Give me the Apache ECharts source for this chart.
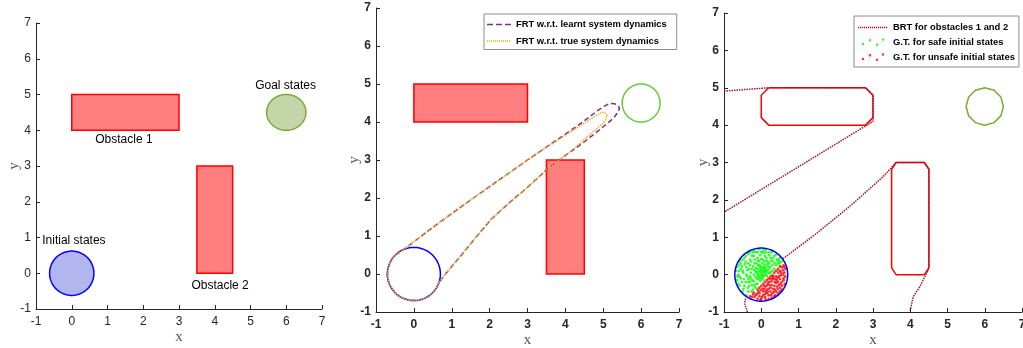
<!DOCTYPE html>
<html><head><meta charset="utf-8">
<script src="https://cdn.jsdelivr.net/npm/echarts@6/dist/echarts.min.js"></script>
<style>html,body{margin:0;padding:0;background:#fff}#c{width:1023px;height:348px}</style>
</head><body><div id="c"></div>
<script>
// ---------- data ----------
const axisMin = -1, axisMax = 7, axisStep = 1;

// Panel 1
const p1Obstacles = [[0, 4, 3, 5], [3.5, 0, 4.5, 3]];          // x0,y0,x1,y1
const p1Initial = [[0, 0, 0.62, 0.62]];                          // cx,cy,rx,ry
const p1Goal = [[6, 4.5, 0.55, 0.5]];
const p1Labels = [[5.98, 5.25, 'Goal states'], [1.46, 3.73, 'Obstacle 1'], [0.06, 0.91, 'Initial states'], [4.15, -0.35, 'Obstacle 2']];

// Panel 2
const p2Obstacles = [[0, 4, 3, 5], [3.5, 0, 4.5, 3]];
const p2Initial = [[0, 0, 0.7, 0.7]];
const p2Goal = [[6, 4.5, 0.5, 0.5]];
const frtLearntName = 'FRT w.r.t. learnt system dynamics';
const frtTrueName = 'FRT w.r.t. true system dynamics';
const frtLearnt = [
  [0.67,-0.22],[0.54,-0.45],[0.40,-0.57],[0.24,-0.66],[0.06,-0.70],[-0.12,-0.69],[-0.30,-0.63],[-0.45,-0.54],
  [-0.57,-0.40],[-0.66,-0.24],[-0.70,-0.06],[-0.69,0.12],[-0.63,0.30],[-0.54,0.45],[-0.43,0.54],[-0.34,0.59],
  [0.0,0.85],[0.76,1.42],[1.5,1.95],[2.0,2.3],[3.0,3.0],[4.0,3.68],[4.5,4.03],[4.85,4.3],[5.05,4.43],[5.18,4.49],
  [5.3,4.48],[5.4,4.42],[5.43,4.36],[5.38,4.25],[5.27,4.10],[4.91,3.80],[4.5,3.48],[4.2,3.26],[3.86,3.02],
  [3.5,2.74],[3.0,2.28],[2.5,1.86],[2.04,1.44],[1.6,0.92],[1.29,0.54],[1.0,0.2],[0.8,-0.04],[0.67,-0.22]
];
const frtTrue = [
  [0.67,-0.22],[0.54,-0.45],[0.40,-0.57],[0.24,-0.66],[0.06,-0.70],[-0.12,-0.69],[-0.30,-0.63],[-0.45,-0.54],
  [-0.57,-0.40],[-0.66,-0.24],[-0.70,-0.06],[-0.69,0.12],[-0.63,0.30],[-0.54,0.45],[-0.43,0.54],[-0.34,0.59],
  [0.0,0.85],[0.76,1.42],[1.5,1.95],[2.0,2.3],[3.0,3.0],[3.5,3.33],[4.0,3.65],[4.5,3.97],[4.8,4.16],[4.96,4.25],
  [5.05,4.24],[5.1,4.18],[5.07,4.07],[5.0,3.97],[4.74,3.75],[4.4,3.45],[4.1,3.2],[3.86,3.02],
  [3.5,2.74],[3.0,2.28],[2.5,1.86],[2.04,1.44],[1.6,0.92],[1.29,0.54],[1.0,0.2],[0.8,-0.04],[0.67,-0.22]
];

// Panel 3
const p3Obstacle1 = [[0.2,5],[2.8,5],[3,4.8],[3,4.2],[2.8,4],[0.2,4],[0,4.2],[0,4.8],[0.2,5]];
const p3Obstacle2 = [[3.62,3],[4.38,3],[4.5,2.82],[4.5,0.18],[4.38,0],[3.62,0],[3.5,0.18],[3.5,2.82],[3.62,3]];
const p3Goal = [[6, 4.5, 0.5, 0.5]];
const p3Initial = [[0, 0, 0.71, 0.71]];
const brtName = 'BRT for obstacles 1 and 2';
const safeName = 'G.T. for safe initial states';
const unsafeName = 'G.T. for unsafe initial states';
const brtObstacle1 = [[-1,4.91],[0.2,5.0],[2.8,5.0],[3.0,4.8],[3.0,4.1],[-1,1.67]];
const brtObstacle2 = [[0.58,0.42],[1.48,1.1],[2.37,1.82],[3.27,2.62],[3.62,3.0],[4.38,3.0],[4.5,2.82],[4.5,0.18],[4.48,0.12],[4.26,-0.32],[4.08,-0.59],[3.99,-1.0]];
const brtLower = [[-0.42,-0.64],[-0.45,-0.77],[-0.37,-1.0]];
const safePts = [
  [0.02,0.05],[-0.05,0.1],[0.08,0.12],[-0.1,-0.02],[0.05,-0.05],[-0.03,0.18],[0.12,0.02],[-0.15,0.08],[0.0,-0.1],[0.1,0.2],
  [-0.08,0.25],[0.15,0.1],[-0.2,0.0],[0.03,0.3],[-0.12,-0.12],[0.18,0.22],[-0.25,0.15],[0.06,-0.14],[-0.18,0.3],[0.22,0.05],
  [-0.3,0.4],[-0.4,0.2],[-0.5,0.1],[-0.55,-0.1],[-0.45,-0.3],[-0.35,-0.45],[-0.3,-0.2],[-0.6,0.25],[-0.5,0.4],[-0.35,0.55],
  [-0.15,0.6],[0.05,0.65],[0.2,0.6],[0.35,0.5],[0.45,0.4],[0.3,0.35],[0.25,0.45],[0.1,0.5],[-0.1,0.45],[-0.25,0.5],
  [-0.62,0.0],[-0.65,-0.15],[-0.58,-0.3],[-0.5,-0.45],[-0.4,-0.55],[-0.42,0.5],[-0.6,0.35],[-0.2,0.65],[0.4,0.25],[0.5,0.3],
  [0.55,0.35],[0.45,0.3],[0.35,0.15],[0.3,0.1],[0.25,0.05],[0.15,-0.04],
  [-0.05,-0.05],[0.0,0.0],[0.07,0.07],[-0.07,0.02],[0.03,-0.02],[-0.02,0.08],[0.1,-0.02],[-0.12,0.05],[0.05,0.15],[-0.06,-0.13],
  [-0.16,-0.06],[0.13,0.14],[-0.1,0.15],[0.0,0.22],[-0.22,0.22],[-0.28,0.05],[-0.2,-0.18],[-0.1,-0.25],[-0.28,-0.1],[0.08,0.35],
  [-0.35,0.3],[-0.38,-0.05],[-0.32,-0.3],[-0.15,-0.35],[-0.22,-0.4],
  [-0.68,0.1],[-0.66,0.2],[-0.55,0.3],[-0.45,0.45],[-0.3,0.6],[-0.05,0.68],[0.12,0.67],[0.28,0.6],[0.4,0.53],[0.5,0.45],
  [-0.62,-0.25],[-0.52,-0.2],[-0.42,-0.2],[-0.48,0.05],[-0.38,0.12],[-0.3,0.25],[-0.18,0.4],[0.0,0.42],[0.18,0.35],[0.22,0.3],
  [0.3,0.25],[0.2,0.15],[-0.05,0.35],[-0.42,0.35],[-0.55,0.15],[-0.25,-0.28],[-0.35,-0.2],
  [-0.6,0.1],[-0.58,-0.05],[-0.52,0.22],[-0.46,-0.12],[-0.44,0.28],[-0.4,0.0],[-0.36,-0.35],[-0.33,0.15],[-0.3,-0.05],[-0.27,0.35],
  [-0.24,-0.15],[-0.2,0.5],[-0.18,0.12],[-0.15,-0.25],[-0.12,0.3],[-0.1,0.6],[-0.08,-0.08],[-0.05,0.25],[-0.03,0.52],[0.0,0.12],
  [0.02,-0.08],[0.04,0.4],[0.06,0.58],[0.09,0.27],[0.11,0.08],[0.14,0.45],[0.16,0.28],[0.19,0.05],[0.21,0.52],[0.24,0.2],
  [0.27,0.38],[0.32,0.45],[0.36,0.3],[0.42,0.4],[0.48,0.36],[-0.64,-0.05],[-0.56,0.4],[-0.48,-0.38],[-0.36,0.58],[-0.26,-0.45],
  [-0.22,0.6],[0.12,0.6],[0.0,0.6],[-0.34,-0.12],[-0.14,0.18],[0.07,0.2],[-0.02,-0.17],[-0.09,0.38],[-0.19,-0.3],[0.13,0.38]
];
const unsafePts = [
  [0.3,-0.1],[0.4,-0.05],[0.5,0.1],[0.55,0.2],[0.6,0.25],[0.45,-0.2],[0.35,-0.3],[0.25,-0.35],[0.15,-0.4],[0.05,-0.45],
  [-0.05,-0.5],[-0.15,-0.55],[-0.25,-0.6],[0.1,-0.6],[0.2,-0.55],[0.3,-0.5],[0.4,-0.45],[0.5,-0.35],[0.55,-0.2],[0.6,-0.1],
  [0.62,0.05],[0.65,0.15],[0.63,-0.25],[0.55,-0.4],[0.45,-0.5],[0.35,-0.58],[0.2,-0.65],[0.0,-0.65],[-0.1,-0.65],[-0.3,-0.58],
  [0.15,-0.15],[0.2,-0.1],[0.25,-0.05],[0.1,-0.2],[0.05,-0.25],[0.0,-0.3],[-0.05,-0.35],[-0.1,-0.4],[-0.2,-0.48],[0.35,0.05],
  [0.4,0.1],[0.45,0.15],[0.3,-0.02],[0.18,-0.22],[0.08,-0.3],[0.28,-0.18],[0.38,-0.12],[0.48,-0.05],[0.12,-0.32],[0.22,-0.28],
  [0.32,-0.38],[0.42,-0.32],[0.52,-0.25],[0.5,-0.12],[0.58,0.0],[0.05,-0.55],[-0.05,-0.58],[0.15,-0.5],[0.25,-0.45],[0.4,-0.22],
  [0.58,0.12],[0.52,-0.02],[0.46,0.05],[0.42,-0.15],[0.36,-0.2],[0.33,-0.05],[0.28,-0.28],[0.24,-0.12],[0.2,-0.38],[0.16,-0.28],
  [0.12,-0.45],[0.08,-0.38],[0.03,-0.38],[-0.02,-0.42],[-0.08,-0.46],[-0.12,-0.52],[-0.18,-0.6],[-0.22,-0.53],[0.02,-0.6],[0.1,-0.52],
  [0.18,-0.46],[0.26,-0.55],[0.34,-0.46],[0.44,-0.38],[0.5,-0.45],[0.56,-0.3],[0.6,-0.15],[0.64,-0.05],[0.62,0.2],[0.5,0.22],
  [0.54,0.05],[0.44,-0.08],[0.36,-0.4],[0.28,-0.62],[0.12,-0.66],[-0.02,-0.68],[0.38,-0.55],[0.47,-0.28],[0.22,-0.2],[0.32,-0.12]
];

// ---------- helpers ----------
const FONT = '"Liberation Sans", Arial, sans-serif';
const SERIF = '"Liberation Serif", "Times New Roman", serif';
const INK = '#262626';

function xAxis(gi, bold) {
  return {
    type: 'value', gridIndex: gi, min: axisMin, max: axisMax, interval: axisStep,
    axisLine: { show: true, onZero: false, lineStyle: { color: INK, width: 1 } },
    axisTick: { show: true, inside: true, length: 4, lineStyle: { color: INK } },
    splitLine: { show: false },
    axisLabel: { color: INK, fontSize: 12, fontWeight: bold ? 'bold' : 'normal', fontFamily: FONT, margin: 7 },
    name: 'x', nameLocation: 'middle', nameGap: 21, nameMoveOverlap: false,
    nameTextStyle: { fontFamily: SERIF, fontSize: 15, color: '#555' }
  };
}
function yAxis(gi, bold, gap) {
  return {
    type: 'value', gridIndex: gi, min: axisMin, max: axisMax, interval: axisStep,
    axisLine: { show: true, onZero: false, lineStyle: { color: INK, width: 1 } },
    axisTick: { show: true, inside: true, length: 4, lineStyle: { color: INK } },
    splitLine: { show: false },
    axisLabel: { color: INK, fontSize: 12, fontWeight: bold ? 'bold' : 'normal', fontFamily: FONT, margin: 5 },
    name: 'y', nameLocation: 'middle', nameGap: gap, nameMoveOverlap: false,
    nameTextStyle: { fontFamily: SERIF, fontSize: 15, color: '#555' }
  };
}
function rectSeries(gi, data) {
  return {
    type: 'custom', xAxisIndex: gi, yAxisIndex: gi, data: data, silent: true,
    renderItem: function (params, api) {
      const p0 = api.coord([api.value(0), api.value(3)]);
      const p1 = api.coord([api.value(2), api.value(1)]);
      return { type: 'rect', shape: { x: p0[0], y: p0[1], width: p1[0] - p0[0], height: p1[1] - p0[1] },
        style: { fill: 'rgba(255,0,0,0.5)', stroke: '#ff0000', lineWidth: 1.5 } };
    }
  };
}
function ellipseSeries(gi, data, fill, stroke, lw, n, z) {
  return {
    type: 'custom', xAxisIndex: gi, yAxisIndex: gi, data: data, silent: true, z: z || 2,
    renderItem: function (params, api) {
      const cx = api.value(0), cy = api.value(1), rx = api.value(2), ry = api.value(3);
      const pts = [];
      for (let i = 0; i < n; i++) {
        const t = 2 * Math.PI * i / n;
        pts.push(api.coord([cx + rx * Math.cos(t), cy + ry * Math.sin(t)]));
      }
      return { type: 'polygon', shape: { points: pts }, style: { fill: fill, stroke: stroke, lineWidth: lw } };
    }
  };
}
function lineSeries(gi, name, data, color, type, width, z) {
  return {
    type: 'line', name: name, xAxisIndex: gi, yAxisIndex: gi, data: data,
    symbol: 'none', showSymbol: false, smooth: false, silent: true, z: z || 3,
    lineStyle: { color: color, type: type, width: width }, itemStyle: { color: color }
  };
}
// legend icon paths (styling only): dashes / dots inside a w x h box
function segIcon(w, h, seg, gap, th) {
  let s = 'path://M0,0h0.01v0.01h-0.01Z M' + w + ',' + h + 'h-0.01v-0.01h0.01Z';
  const y0 = (h - th) / 2;
  for (let x = 0; x + seg <= w + 0.01; x += seg + gap) {
    s += ' M' + x + ',' + y0 + 'h' + seg + 'v' + th + 'h-' + seg + 'Z';
  }
  return s;
}
const dotsIcon = 'path://M0,0h0.01v0.01h-0.01Z M30,11h-0.01v-0.01h0.01Z ' +
  'M3.7,7a1.3,1.3 0 1,0 2.6,0a1.3,1.3 0 1,0 -2.6,0Z ' +
  'M10.7,3.2a1.3,1.3 0 1,0 2.6,0a1.3,1.3 0 1,0 -2.6,0Z ' +
  'M17.7,7.8a1.3,1.3 0 1,0 2.6,0a1.3,1.3 0 1,0 -2.6,0Z ' +
  'M23.7,2.5a1.3,1.3 0 1,0 2.6,0a1.3,1.3 0 1,0 -2.6,0Z';

// ---------- chart ----------
const chart = echarts.init(document.getElementById('c'), null, { renderer: 'canvas' });
const legendText = { fontSize: 9.4, fontWeight: 'bold', fontFamily: FONT, color: '#000' };
const option = {
  animation: false,
  backgroundColor: '#fff',
  grid: [
    { left: 36, top: 23, width: 286, height: 286, containLabel: false, outerBoundsMode: 'none' },
    { left: 376, top: 8, width: 303, height: 304, containLabel: false, outerBoundsMode: 'none' },
    { left: 724, top: 13, width: 298, height: 299, containLabel: false, outerBoundsMode: 'none' }
  ],
  xAxis: [xAxis(0, false), xAxis(1, true), xAxis(2, true)],
  yAxis: [yAxis(0, false, 14), yAxis(1, true, 14), yAxis(2, true, 13)],
  legend: [
    {
      data: [
        { name: frtLearntName, icon: segIcon(24, 11, 6, 3, 1.5), itemStyle: { color: '#7e2f8e' } },
        { name: frtTrueName, icon: segIcon(24, 11, 1.2, 0.8, 1.3), itemStyle: { color: '#edb120' } }
      ],
      orient: 'vertical', left: 484, top: 14,
      padding: [5, 10, 3, 3], itemGap: 5.5, itemWidth: 24, itemHeight: 11,
      backgroundColor: '#fff', borderColor: '#8c8c8c', borderWidth: 1,
      textStyle: legendText, selectedMode: false
    },
    {
      data: [
        { name: brtName, icon: segIcon(30, 11, 1.2, 0.8, 1.3), itemStyle: { color: '#a2142f' } },
        { name: safeName, icon: dotsIcon },
        { name: unsafeName, icon: dotsIcon }
      ],
      orient: 'vertical', left: 854, top: 16,
      padding: [6, 4, 4, 4], itemGap: 4, itemWidth: 30, itemHeight: 11,
      backgroundColor: '#fff', borderColor: '#8c8c8c', borderWidth: 1,
      textStyle: legendText, selectedMode: false
    }
  ],
  series: [
    // Panel 1
    rectSeries(0, p1Obstacles),
    ellipseSeries(0, p1Initial, '#b3b5ef', '#0000ff', 1.5, 90),
    ellipseSeries(0, p1Goal, '#c4d6a9', '#77ac30', 1.5, 90),
    {
      type: 'custom', xAxisIndex: 0, yAxisIndex: 0, silent: true, z: 5,
      data: p1Labels.map(function (d) { return [d[0], d[1]]; }),
      renderItem: function (params, api) {
        const d = p1Labels[params.dataIndex];
        const p = api.coord([d[0], d[1]]);
        return { type: 'text', x: p[0], y: p[1],
          style: { text: d[2], fill: '#000', font: '12px ' + FONT, align: 'center', verticalAlign: 'middle' } };
      }
    },
    // Panel 2
    rectSeries(1, p2Obstacles),
    ellipseSeries(1, p2Initial, 'none', '#0000ff', 1.5, 90),
    ellipseSeries(1, p2Goal, 'none', '#66cc33', 1.5, 90),
    lineSeries(1, frtLearntName, frtLearnt, '#7e2f8e', [5, 3], 1.5, 4),
    lineSeries(1, frtTrueName, frtTrue, '#edb120', [1.5, 1], 1.5, 5),
    // Panel 3
    lineSeries(2, 'obs1', p3Obstacle1, '#ff0000', 'solid', 1.5, 2),
    lineSeries(2, 'obs2', p3Obstacle2, '#ff0000', 'solid', 1.5, 2),
    ellipseSeries(2, p3Goal, 'none', '#77ac30', 1.5, 12),
    lineSeries(2, brtName, brtObstacle1, '#a2142f', [1.5, 1], 1.5, 3),
    lineSeries(2, brtName, brtObstacle2, '#a2142f', [1.5, 1], 1.5, 3),
    lineSeries(2, brtName, brtLower, '#a2142f', [1.5, 1], 1.5, 3),
    {
      type: 'scatter', name: safeName, xAxisIndex: 2, yAxisIndex: 2, data: safePts,
      symbol: 'circle', symbolSize: 2.8, silent: true, z: 4, itemStyle: { color: '#00ff00' }
    },
    {
      type: 'scatter', name: unsafeName, xAxisIndex: 2, yAxisIndex: 2, data: unsafePts,
      symbol: 'circle', symbolSize: 2.8, silent: true, z: 4, itemStyle: { color: '#ff0000' }
    },
    ellipseSeries(2, p3Initial, 'none', '#0000ff', 1.5, 90, 6)
  ]
};
chart.setOption(option);
</script>
</body></html>
